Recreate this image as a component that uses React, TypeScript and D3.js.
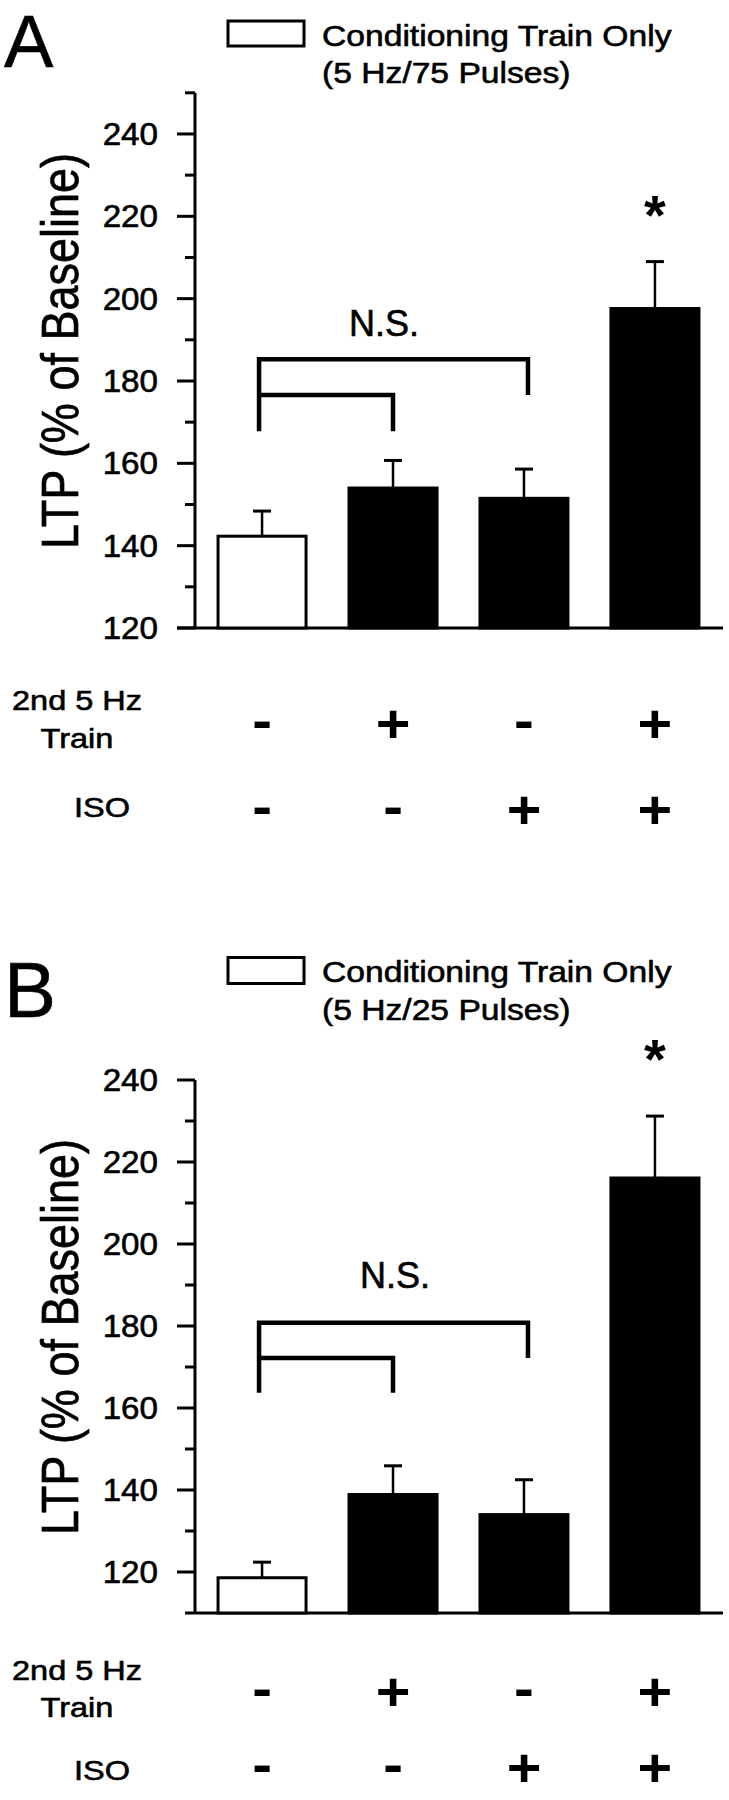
import React, { useRef, useEffect } from "react";
import * as d3 from "d3";

// groups along the x axis
const categories = ["condOnly", "train", "iso", "trainIso"];
const barFills = ["white", "black", "black", "black"];
const trainSigns = ["-", "+", "-", "+"];
const isoSigns = ["-", "-", "+", "+"];

const majorTicks = [120, 140, 160, 180, 200, 220, 240];
const minorTicksA = [130, 150, 170, 190, 210, 230, 250];
const minorTicksB = [130, 150, 170, 190, 210, 230];

// panel A: 5 Hz / 75 pulses
const meansA = [142.3, 154.0, 151.5, 197.6];
const errA = [6.1, 6.7, 7.1, 11.4];
const legendA = ["Conditioning Train Only", "(5 Hz/75 Pulses)"];
const bracketA = [185.3, 176.6, 167.8]; // top bar, inner bar, leg bottom
const starA = 223.7;

// panel B: 5 Hz / 25 pulses
const meansB = [118.6, 138.9, 134.0, 216.1];
const errB = [3.8, 7.0, 8.5, 15.1];
const legendB = ["Conditioning Train Only", "(5 Hz/25 Pulses)"];
const bracketB = [180.8, 172.2, 163.7];
const starB = 248.3;

const FONT = "'Liberation Sans', Arial, Helvetica, sans-serif";

function drawPanel(svg: any, p: any) {
  const g = svg.append("g");

  const x = d3.scaleBand()
    .domain(categories)
    .range([195, 722])
    .paddingInner(0.328)
    .paddingOuter(0.176);

  const y = d3.scaleLinear().domain(p.domain).range(p.range);
  const cx = (i: number) => (x(categories[i]) as number) + x.bandwidth() / 2;
  const axisX = 195;
  const base = y(p.domain[0]);

  const txt = (str: string, tx: number, ty: number, size: number, sx: number, anchor: string, weight = "normal", rot = 0) =>
    g.append("text")
      .attr("transform", `translate(${tx},${ty}) scale(${sx},1)` + (rot ? ` rotate(${rot})` : ""))
      .attr("text-anchor", anchor)
      .style("font-family", FONT)
      .style("font-size", size + "px")
      .style("font-weight", weight)
      .attr("fill", "black")
      .attr("stroke", weight === "bold" ? "none" : "black")
      .attr("stroke-width", 0.6)
      .text(str);

  // panel letter
  txt(p.letter, 4, p.letterY, p.letterSize, 1, "start");

  // legend
  g.append("rect")
    .attr("x", 228).attr("y", p.legendRectY)
    .attr("width", 76).attr("height", p.legendRectH)
    .attr("fill", "white").attr("stroke", "black").attr("stroke-width", 3);
  p.legend.forEach((line: string, i: number) => {
    txt(line, 322, p.legendY[i], 29.5, 1.14, "start");
  });

  // y axis
  g.append("line")
    .attr("x1", axisX).attr("x2", axisX)
    .attr("y1", y(p.domain[1])).attr("y2", base)
    .attr("stroke", "black").attr("stroke-width", 3);

  g.selectAll(".major")
    .data(majorTicks)
    .enter().append("line")
    .attr("x1", axisX - 18).attr("x2", axisX)
    .attr("y1", (d: number) => y(d)).attr("y2", (d: number) => y(d))
    .attr("stroke", "black").attr("stroke-width", 3);

  g.selectAll(".minor")
    .data(p.minor)
    .enter().append("line")
    .attr("x1", axisX - 10).attr("x2", axisX)
    .attr("y1", (d: number) => y(d)).attr("y2", (d: number) => y(d))
    .attr("stroke", "black").attr("stroke-width", 3);

  majorTicks.forEach((v) => {
    txt(String(v), 158, y(v), 31, 1.07, "end").attr("dy", "0.36em");
  });

  // x axis
  const xStart = majorTicks.includes(p.domain[0]) ? axisX - 18 : axisX - 10;
  g.append("line")
    .attr("x1", xStart).attr("x2", 723)
    .attr("y1", base).attr("y2", base)
    .attr("stroke", "black").attr("stroke-width", 3);

  // y label
  txt("LTP (% of Baseline)", 78, p.labelY, 45, 1.17, "middle", "normal", -90);

  // error bars
  p.means.forEach((m: number, i: number) => {
    const c = cx(i);
    g.append("line")
      .attr("x1", c).attr("x2", c)
      .attr("y1", y(m)).attr("y2", y(m + p.err[i]))
      .attr("stroke", "black").attr("stroke-width", 2.5);
    g.append("line")
      .attr("x1", c - 9).attr("x2", c + 9)
      .attr("y1", y(m + p.err[i])).attr("y2", y(m + p.err[i]))
      .attr("stroke", "black").attr("stroke-width", 3);
  });

  // bars
  g.selectAll(".bar")
    .data(p.means)
    .enter().append("rect")
    .attr("x", (d: number, i: number) => x(categories[i]))
    .attr("y", (d: number) => y(d))
    .attr("width", x.bandwidth())
    .attr("height", (d: number) => base - y(d))
    .attr("fill", (d: number, i: number) => barFills[i])
    .attr("stroke", "black")
    .attr("stroke-width", 3);

  // N.S. brackets
  const [top, inner, legBottom] = p.bracket;
  const left = cx(0) - 3;
  g.append("path")
    .attr("d", `M${left},${y(legBottom)} V${y(top)} H${cx(2) + 4} V${y(inner)}`)
    .attr("fill", "none").attr("stroke", "black").attr("stroke-width", 4.5);
  g.append("path")
    .attr("d", `M${left},${y(inner)} H${cx(1)} V${y(legBottom)}`)
    .attr("fill", "none").attr("stroke", "black").attr("stroke-width", 4.5);
  txt("N.S.", p.nsX, p.nsY, 36, 1, "middle");

  // significance star
  txt("*", cx(3), y(p.star), 56, 1, "middle", "bold").attr("dy", "0.58em");

  // condition rows
  txt("2nd 5 Hz", 77, p.rowText[0], 28, 1.16, "middle");
  txt("Train", 77, p.rowText[1], 28, 1.16, "middle");
  txt("ISO", 102, p.rowText[2], 28, 1.16, "middle");
  [trainSigns, isoSigns].forEach((row, r) => {
    row.forEach((s, i) => {
      txt(s, cx(i), p.signRows[r], 54, 1.1, "middle", "bold")
        .attr("dy", s === "+" ? "0.34em" : "0.27em");
    });
  });
}

export default function App() {
  const svgRef = useRef<SVGSVGElement>(null);

  useEffect(() => {
    const svg = d3.select(svgRef.current);
    svg.selectAll("*").remove();

    drawPanel(svg, {
      letter: "A", letterY: 67, letterSize: 74,
      legend: legendA, legendRectY: 21, legendRectH: 25, legendY: [46, 83],
      domain: [120, 250], range: [628, 92.8], minor: minorTicksA,
      means: meansA, err: errA, bracket: bracketA, star: starA,
      labelY: 351, nsX: 384, nsY: 336,
      rowText: [710, 748, 817], signRows: [724, 810],
    });

    drawPanel(svg, {
      letter: "B", letterY: 1017, letterSize: 78,
      legend: legendB, legendRectY: 957.5, legendRectH: 26, legendY: [982, 1020],
      domain: [110, 240], range: [1613, 1080], minor: minorTicksB,
      means: meansB, err: errB, bracket: bracketB, star: starB,
      labelY: 1337, nsX: 395, nsY: 1288,
      rowText: [1680, 1717, 1780], signRows: [1692, 1768],
    });
  }, []);

  return (
    <svg
      ref={svgRef}
      width={729}
      height={1800}
      style={{ position: "absolute", left: 0, top: 0, background: "white" }}
    />
  );
}
